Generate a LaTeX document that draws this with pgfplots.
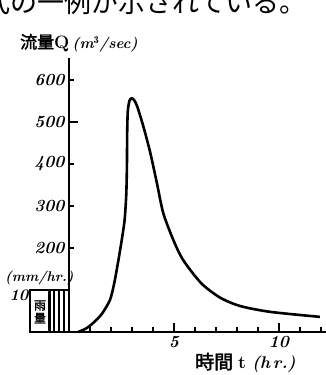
\documentclass[border=0pt]{standalone}
\usepackage{fontspec}
\usepackage{pgfplots}
\pgfplotsset{compat=1.18}
\newfontfamily\cjk{Noto Sans CJK JP}
\newfontfamily\cjkb[FakeBold=2]{Noto Sans CJK JP}
\begin{document}
\begin{tikzpicture}
\useasboundingbox (0pt,0pt) rectangle (326pt,375pt);
\begin{scope}
\clip (0pt,0pt) rectangle (326pt,375pt);
\node[anchor=base west, font=\cjk\fontsize{27}{27}\selectfont, inner sep=0] at (-17pt,362pt) {式の一例が示されている。};
\end{scope}
\begin{axis}[
  at={(69pt,43pt)}, anchor=origin,
  scale only axis, width=296pt, height=274pt,
  xmin=-1.86, xmax=12.24, ymin=0, ymax=652,
  axis lines=middle,
  axis line style={line width=2.2pt,-},
  every inner x axis line/.append style={-},
  every inner y axis line/.append style={-},
  tick align=inside,
  major tick length=5pt,
  tick style={line width=2pt,black},
  xtick={1,2,3,4,6,7,8,9,11,12},
  xticklabels={,,,,,,,,,},
  extra x ticks={5,10},
  extra x tick labels={5,10},
  extra x tick style={major tick length=9pt},
  ytick={200,300,400,600},
  extra y ticks={500},
  extra y tick style={major tick length=9pt},
  /pgf/number format/assume math mode=true,
  ticklabel style={font=\bfseries\itshape\fontsize{17}{17}\selectfont},
  xticklabel style={yshift=-1pt},
  yticklabel style={xshift=-1pt},
  clip=false,
]
\addplot[ybar interval, fill=white, draw=black, line width=2.2pt]
  coordinates {(-1.86,100) (-0.93,100) (-0.7,100) (-0.47,100) (-0.24,100) (0,100)};
\addplot[smooth, tension=0.45, line width=2.6pt, black] coordinates {
 (0.43,0) (0.8,8) (1.14,21) (1.55,42) (1.95,76) (2.15,115) (2.33,164) (2.5,215)
 (2.65,267) (2.73,330) (2.76,400) (2.77,470) (2.8,525) (2.88,550) (2.98,556)
 (3.1,552) (3.24,538) (3.52,493) (3.86,429) (4.18,356) (4.49,283) (4.97,219)
 (5.44,171) (6.3,116) (7.19,82) (8.14,62) (9.57,48) (11.95,36)};
\node[font=\cjkb\fontsize{12}{13}\selectfont, align=center, inner sep=0] at (axis cs:-1.38,48) {雨\\量};
\end{axis}
\node[anchor=west, inner sep=0] at (20pt,332pt) {{\cjkb\fontsize{17}{17}\selectfont 流量}{\bfseries\fontsize{18}{18}\selectfont Q}\hspace{3pt}{\bfseries\itshape\fontsize{15}{15}\selectfont (m$^{\mathbf 3}$/sec)}};
\node[anchor=west, inner sep=0] at (195pt,12pt) {{\cjkb\fontsize{19}{19}\selectfont 時間}\hspace{5pt}{\bfseries\fontsize{18}{18}\selectfont t}\hspace{6pt}{\bfseries\itshape\fontsize{17}{17}\selectfont (h\,r.)}};
\node[anchor=west, inner sep=0, font=\bfseries\itshape\fontsize{14}{14}\selectfont] at (5pt,97pt) {(mm/hr.)};
\node[inner sep=0, font=\bfseries\itshape\fontsize{16}{16}\selectfont] at (19pt,80pt) {10};
\end{tikzpicture}
\end{document}
